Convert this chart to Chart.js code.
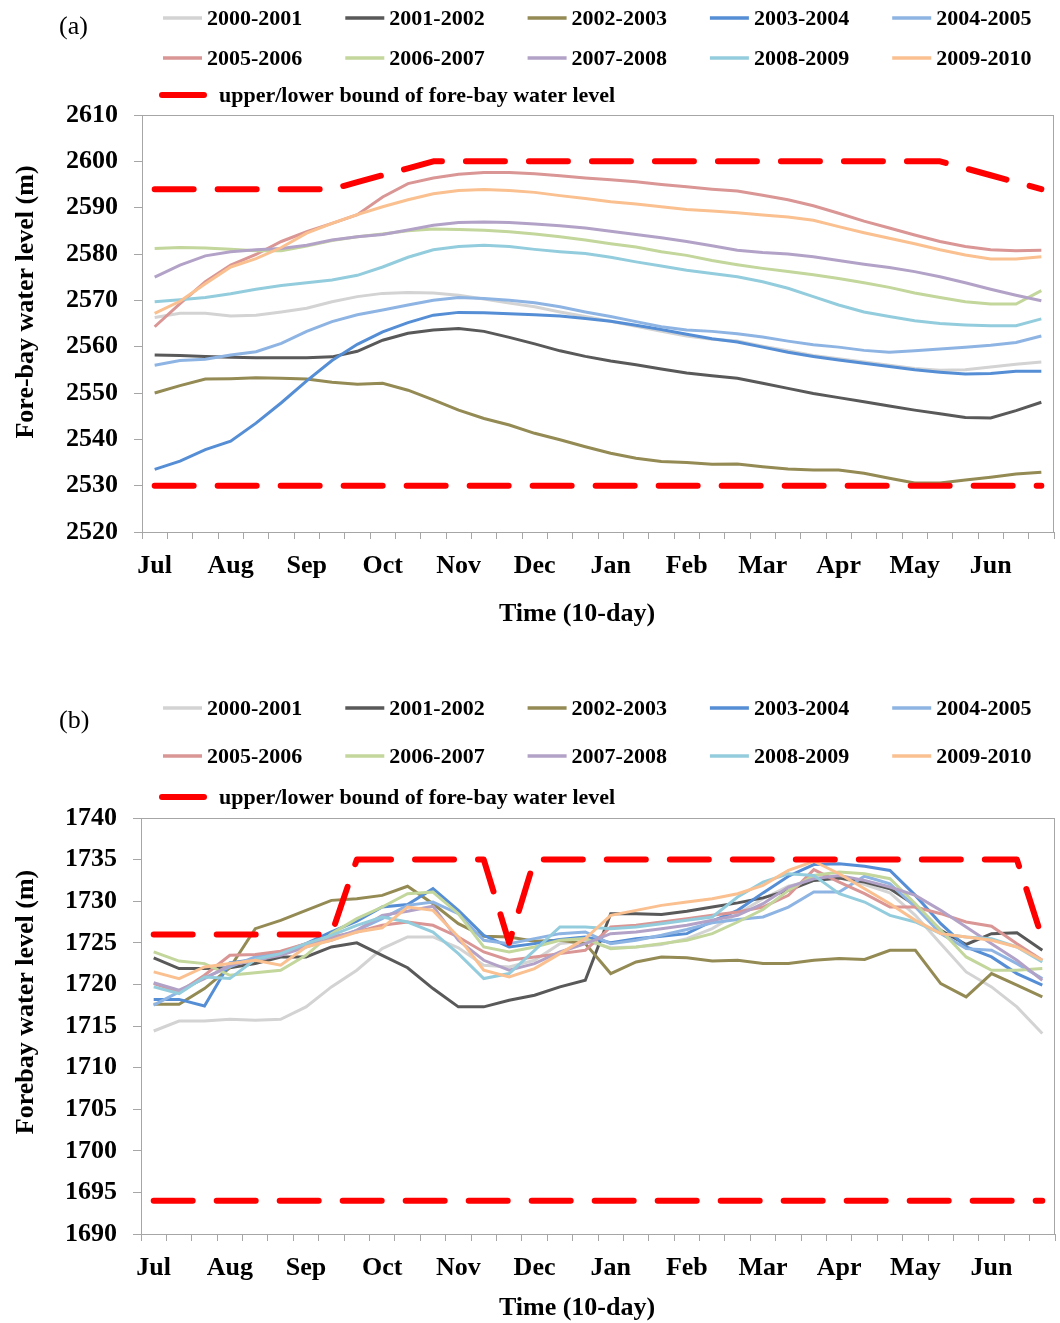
<!DOCTYPE html>
<html>
<head>
<meta charset="utf-8">
<script src="https://cdn.jsdelivr.net/npm/chart.js@4.4.1/dist/chart.umd.min.js"></script>
<style>
  body { margin: 0; background: #fff; }
  canvas { display: block; }
</style>
</head>
<body>
<canvas id="chartA" width="1060" height="662"></canvas>
<canvas id="chartB" width="1060" height="661"></canvas>
<script>
// 10-day periods, July to June (3 per month)
const months = ['Jul', 'Aug', 'Sep', 'Oct', 'Nov', 'Dec', 'Jan', 'Feb', 'Mar', 'Apr', 'May', 'Jun'];
const seasons = ['2000-2001', '2001-2002', '2002-2003', '2003-2004', '2004-2005',
                 '2005-2006', '2006-2007', '2007-2008', '2008-2009', '2009-2010'];
const seasonColors = ['#D3D3D3', '#595959', '#948A54', '#558ED5', '#8EB4E3',
                      '#D99694', '#C3D69B', '#B3A2C7', '#93CDDD', '#FAC090'];

// (a) fore-bay water level, m
const a2000 = [2566.3, 2567.2, 2567.2, 2566.6, 2566.8, 2567.5, 2568.3, 2569.7, 2570.8, 2571.5, 2571.7, 2571.6, 2571.1, 2570.3, 2569.4, 2568.6, 2567.5, 2566.5, 2565.5, 2564.4, 2563.3, 2562.3, 2561.6, 2561.2, 2560.1, 2559.1, 2558.1, 2557.4, 2556.7, 2556.0, 2555.3, 2554.9, 2555.0, 2555.6, 2556.2, 2556.7];
const a2001 = [2558.2, 2558.1, 2557.9, 2557.7, 2557.6, 2557.6, 2557.6, 2557.8, 2559.0, 2561.4, 2562.9, 2563.6, 2563.9, 2563.3, 2562.0, 2560.6, 2559.1, 2557.9, 2556.9, 2556.1, 2555.2, 2554.3, 2553.7, 2553.2, 2552.1, 2551.0, 2549.9, 2549.0, 2548.1, 2547.2, 2546.3, 2545.5, 2544.7, 2544.6, 2546.2, 2548.0];
const a2002 = [2550.0, 2551.6, 2553.0, 2553.1, 2553.3, 2553.2, 2553.0, 2552.3, 2551.9, 2552.1, 2550.6, 2548.5, 2546.3, 2544.5, 2543.1, 2541.3, 2539.9, 2538.4, 2537.0, 2535.9, 2535.2, 2535.0, 2534.6, 2534.7, 2534.1, 2533.6, 2533.4, 2533.4, 2532.7, 2531.6, 2530.6, 2530.6, 2531.2, 2531.8, 2532.5, 2532.9];
const a2003 = [2533.5, 2535.3, 2537.8, 2539.6, 2543.5, 2547.9, 2552.6, 2557.0, 2560.5, 2563.2, 2565.2, 2566.8, 2567.4, 2567.3, 2567.1, 2566.9, 2566.6, 2566.1, 2565.5, 2564.6, 2563.7, 2562.7, 2561.7, 2561.0, 2559.9, 2558.8, 2557.9, 2557.1, 2556.4, 2555.7, 2555.0, 2554.5, 2554.1, 2554.2, 2554.7, 2554.7];
const a2004 = [2556.0, 2557.0, 2557.3, 2558.2, 2558.9, 2560.7, 2563.3, 2565.4, 2566.9, 2567.9, 2569.0, 2570.0, 2570.6, 2570.4, 2570.0, 2569.5, 2568.6, 2567.5, 2566.5, 2565.4, 2564.3, 2563.6, 2563.3, 2562.8, 2562.1, 2561.2, 2560.4, 2559.9, 2559.2, 2558.8, 2559.1, 2559.5, 2559.9, 2560.3, 2560.9, 2562.3];
const a2005 = [2564.3, 2569.3, 2574.0, 2577.6, 2579.9, 2582.7, 2584.8, 2586.6, 2588.5, 2592.3, 2595.2, 2596.4, 2597.2, 2597.6, 2597.6, 2597.3, 2596.9, 2596.4, 2596.0, 2595.6, 2595.0, 2594.5, 2594.0, 2593.6, 2592.7, 2591.7, 2590.4, 2588.8, 2587.1, 2585.6, 2584.1, 2582.7, 2581.6, 2580.9, 2580.7, 2580.8];
const a2006 = [2581.2, 2581.4, 2581.3, 2581.0, 2580.7, 2580.7, 2581.7, 2582.9, 2583.7, 2584.3, 2585.0, 2585.4, 2585.3, 2585.1, 2584.8, 2584.3, 2583.7, 2583.0, 2582.2, 2581.5, 2580.5, 2579.7, 2578.6, 2577.7, 2576.9, 2576.2, 2575.5, 2574.7, 2573.8, 2572.8, 2571.6, 2570.6, 2569.7, 2569.2, 2569.2, 2572.1];
const a2007 = [2575.0, 2577.6, 2579.6, 2580.5, 2580.9, 2581.2, 2581.9, 2583.0, 2583.7, 2584.2, 2585.2, 2586.2, 2586.8, 2586.9, 2586.8, 2586.5, 2586.1, 2585.6, 2584.9, 2584.2, 2583.5, 2582.7, 2581.8, 2580.8, 2580.3, 2580.0, 2579.4, 2578.6, 2577.8, 2577.1, 2576.2, 2575.1, 2573.8, 2572.4, 2571.1, 2569.9];
const a2008 = [2569.7, 2570.1, 2570.6, 2571.4, 2572.4, 2573.2, 2573.8, 2574.4, 2575.4, 2577.2, 2579.3, 2580.9, 2581.6, 2581.9, 2581.6, 2581.0, 2580.5, 2580.1, 2579.3, 2578.3, 2577.4, 2576.5, 2575.8, 2575.1, 2574.0, 2572.6, 2570.8, 2569.0, 2567.5, 2566.5, 2565.6, 2565.0, 2564.7, 2564.5, 2564.5, 2566.0];
const a2009 = [2567.2, 2569.8, 2573.6, 2577.2, 2579.0, 2581.4, 2584.5, 2586.6, 2588.5, 2590.2, 2591.7, 2593.0, 2593.7, 2593.9, 2593.7, 2593.3, 2592.6, 2592.0, 2591.3, 2590.8, 2590.2, 2589.6, 2589.3, 2588.9, 2588.4, 2588.0, 2587.3, 2585.9, 2584.6, 2583.4, 2582.2, 2580.9, 2579.8, 2578.9, 2578.9, 2579.4];
const upperA = [2594, 2594, 2594, 2594, 2594, 2594, 2594, 2594, 2595.5, 2597, 2598.5, 2600, 2600, 2600, 2600, 2600, 2600, 2600, 2600, 2600, 2600, 2600, 2600, 2600, 2600, 2600, 2600, 2600, 2600, 2600, 2600, 2600, 2598.5, 2597, 2595.5, 2594];
const lowerA = [2530, 2530, 2530, 2530, 2530, 2530, 2530, 2530, 2530, 2530, 2530, 2530, 2530, 2530, 2530, 2530, 2530, 2530, 2530, 2530, 2530, 2530, 2530, 2530, 2530, 2530, 2530, 2530, 2530, 2530, 2530, 2530, 2530, 2530, 2530, 2530];

// (b) forebay water level, m
const b2000 = [1714.4, 1715.6, 1715.6, 1715.8, 1715.7, 1715.8, 1717.3, 1719.7, 1721.7, 1724.3, 1725.7, 1725.7, 1724.4, 1722.3, 1722.1, 1722.9, 1724.9, 1725.2, 1724.4, 1724.5, 1724.8, 1725.5, 1726.7, 1728.5, 1730.3, 1731.8, 1732.5, 1732.8, 1732.0, 1731.0, 1728.3, 1724.9, 1721.5, 1719.7, 1717.3, 1714.1];
const b2001 = [1723.2, 1721.9, 1721.9, 1722.0, 1722.5, 1723.3, 1723.3, 1724.5, 1725.0, 1723.5, 1722.0, 1719.5, 1717.3, 1717.3, 1718.1, 1718.7, 1719.7, 1720.5, 1728.5, 1728.5, 1728.4, 1728.8, 1729.3, 1729.8, 1730.4, 1731.3, 1732.5, 1732.8, 1732.3, 1731.5, 1729.5, 1726.5, 1724.8, 1726.1, 1726.2, 1724.1];
const b2002 = [1717.6, 1717.6, 1719.5, 1722.0, 1726.7, 1727.7, 1728.9, 1730.1, 1730.3, 1730.7, 1731.8, 1729.7, 1727.3, 1725.8, 1725.7, 1725.2, 1725.3, 1724.9, 1721.3, 1722.7, 1723.3, 1723.2, 1722.8, 1722.9, 1722.5, 1722.5, 1722.9, 1723.1, 1723.0, 1724.1, 1724.1, 1720.1, 1718.5, 1721.3, 1719.9, 1718.5];
const b2003 = [1718.2, 1718.2, 1717.4, 1722.6, 1723.0, 1723.8, 1724.9, 1726.3, 1727.6, 1729.3, 1729.6, 1731.5, 1728.9, 1725.9, 1724.5, 1724.9, 1725.4, 1725.7, 1725.0, 1725.5, 1725.8, 1726.1, 1727.6, 1728.9, 1731.0, 1733.0, 1734.4, 1734.5, 1734.2, 1733.7, 1730.7, 1727.3, 1724.5, 1723.3, 1721.3, 1719.9];
const b2004 = [1717.5, 1719.1, 1720.8, 1722.1, 1723.3, 1723.9, 1724.7, 1725.3, 1726.5, 1727.9, 1729.5, 1729.9, 1728.5, 1725.3, 1724.9, 1725.5, 1726.1, 1726.3, 1724.9, 1725.3, 1725.9, 1726.6, 1727.4, 1727.8, 1728.1, 1729.3, 1731.1, 1731.1, 1733.0, 1732.1, 1729.3, 1726.1, 1724.3, 1724.1, 1722.5, 1720.7];
const b2005 = [1720.1, 1719.1, 1721.1, 1723.5, 1723.6, 1724.0, 1724.9, 1725.7, 1726.3, 1727.1, 1727.5, 1727.1, 1725.7, 1723.9, 1722.9, 1723.3, 1723.7, 1724.1, 1726.9, 1727.1, 1727.5, 1727.9, 1728.3, 1728.7, 1729.3, 1730.7, 1733.8, 1732.3, 1730.9, 1729.3, 1729.3, 1728.5, 1727.5, 1727.0, 1724.9, 1722.9];
const b2006 = [1723.9, 1722.8, 1722.5, 1721.1, 1721.4, 1721.7, 1723.5, 1726.1, 1727.9, 1729.3, 1730.9, 1731.1, 1728.5, 1724.5, 1723.9, 1724.5, 1725.3, 1725.5, 1724.3, 1724.5, 1724.9, 1725.3, 1726.1, 1727.5, 1729.0, 1731.3, 1733.1, 1733.5, 1733.3, 1732.7, 1729.7, 1726.5, 1723.3, 1721.7, 1721.7, 1721.9];
const b2007 = [1720.2, 1719.3, 1720.7, 1722.3, 1722.9, 1723.5, 1724.5, 1725.5, 1726.5, 1728.3, 1728.8, 1729.4, 1725.3, 1722.9, 1721.7, 1722.5, 1723.9, 1724.9, 1726.1, 1726.3, 1726.7, 1727.1, 1727.7, 1728.3, 1729.7, 1731.7, 1732.7, 1733.1, 1732.5, 1731.7, 1730.7, 1728.9, 1726.9, 1724.9, 1722.9, 1720.5];
const b2008 = [1719.7, 1718.9, 1720.9, 1720.7, 1723.0, 1723.7, 1724.9, 1725.9, 1727.1, 1728.1, 1727.5, 1726.3, 1723.7, 1720.7, 1721.3, 1724.1, 1726.9, 1726.9, 1726.7, 1726.9, 1727.3, 1727.7, 1728.1, 1730.5, 1732.3, 1733.3, 1733.1, 1730.9, 1729.9, 1728.3, 1727.5, 1726.1, 1725.7, 1725.5, 1724.5, 1722.7];
const b2009 = [1721.5, 1720.7, 1722.1, 1722.5, 1722.9, 1722.3, 1724.5, 1725.3, 1726.3, 1726.8, 1729.3, 1728.9, 1725.7, 1721.7, 1720.9, 1721.9, 1723.7, 1725.5, 1728.3, 1728.9, 1729.5, 1729.9, 1730.3, 1730.9, 1731.9, 1733.7, 1734.8, 1733.3, 1731.5, 1729.7, 1727.7, 1726.1, 1725.7, 1725.3, 1724.5, 1722.9];
const upperB = [1726, 1726, 1726, 1726, 1726, 1726, 1726, 1726, 1735, 1735, 1735, 1735, 1735, 1735, 1725, 1735, 1735, 1735, 1735, 1735, 1735, 1735, 1735, 1735, 1735, 1735, 1735, 1735, 1735, 1735, 1735, 1735, 1735, 1735, 1735, 1725.5];
const lowerB = [1694, 1694, 1694, 1694, 1694, 1694, 1694, 1694, 1694, 1694, 1694, 1694, 1694, 1694, 1694, 1694, 1694, 1694, 1694, 1694, 1694, 1694, 1694, 1694, 1694, 1694, 1694, 1694, 1694, 1694, 1694, 1694, 1694, 1694, 1694, 1694];

const boundLabel = 'upper/lower bound of fore-bay water level';
const serif = '"Liberation Serif", "Times New Roman", serif';
const axisGrey = '#A6A6A6';

// month name on the first 10-day period, blanks on the other two
const tenDayLabels = months.flatMap(m => [m, '', '']);

// frame around the plot, legend block, panel tag and axis titles
const panelDecor = {
  id: 'panelDecor',
  afterDraw(chart, args, opts) {
    const {ctx, chartArea} = chart;
    ctx.save();
    ctx.strokeStyle = axisGrey;
    ctx.lineWidth = 1;
    ctx.strokeRect(chartArea.left + 0.5, chartArea.top + 0.5,
      chartArea.right - chartArea.left - 1, chartArea.bottom - chartArea.top);

    ctx.fillStyle = '#000';
    ctx.textBaseline = 'middle';
    ctx.font = '26px ' + serif;
    ctx.fillText(opts.tag, 59, opts.tagY);

    // axis titles
    ctx.font = 'bold 26px ' + serif;
    ctx.textAlign = 'center';
    ctx.fillText('Time (10-day)', 577, opts.xTitleY);
    ctx.save();
    ctx.translate(26, opts.yTitleY);
    ctx.rotate(-Math.PI / 2);
    ctx.fillText(opts.yTitle, 0, 0);
    ctx.restore();

    ctx.textAlign = 'left';
    ctx.font = 'bold 22px ' + serif;
    chart.data.datasets.forEach((ds, i) => {
      if (ds.noLegend) return;
      let x, y, len = 39;
      if (i < 10) {
        x = 163 + 182.3 * (i % 5);
        y = opts.rows[Math.floor(i / 5)];
      } else {
        x = 162;
        y = opts.rows[2];
        len = 42;
      }
      ctx.beginPath();
      ctx.strokeStyle = ds.borderColor;
      ctx.lineWidth = i < 10 ? 3.5 : 6;
      ctx.lineCap = i < 10 ? 'butt' : 'round';
      ctx.moveTo(x, y);
      ctx.lineTo(x + len, y);
      ctx.stroke();
      ctx.fillText(ds.label, i < 10 ? x + 44 : 219, y + 1);
    });
    ctx.restore();
  }
};

function buildDatasets(series, upper, lower) {
  const sets = series.map((values, i) => ({
    label: seasons[i],
    data: values,
    borderColor: seasonColors[i],
    borderWidth: 3,
    pointRadius: 0,
    tension: 0,
    order: 20 - i
  }));
  const bound = {
    borderColor: '#FF0000',
    borderWidth: 6,
    borderDash: [39, 24],
    borderCapStyle: 'round',
    borderJoinStyle: 'round',
    pointRadius: 0,
    order: 0
  };
  sets.push(Object.assign({label: boundLabel, data: upper}, bound));
  sets.push(Object.assign({label: boundLabel, data: lower, noLegend: true}, bound));
  return sets;
}

function makePanel(id, cfg) {
  return new Chart(document.getElementById(id), {
    type: 'line',
    data: {
      labels: tenDayLabels,
      datasets: buildDatasets(cfg.series, cfg.upper, cfg.lower)
    },
    options: {
      responsive: false,
      animation: false,
      layout: {padding: {top: cfg.top, right: cfg.right, left: 0, bottom: 0}},
      plugins: {
        legend: {display: false},
        tooltip: {enabled: false},
        panelDecor: {
          tag: cfg.tag, tagY: cfg.tagY, rows: cfg.rows,
          yTitle: cfg.yTitle, yTitleY: cfg.yTitleY, xTitleY: cfg.xTitleY
        }
      },
      scales: {
        x: {
          type: 'category',
          offset: true,
          afterFit(scale) { scale.height = cfg.xHeight; },
          grid: {offset: true, drawOnChartArea: false, drawTicks: true, tickLength: 7, color: axisGrey},
          border: {color: axisGrey},
          ticks: {
            autoSkip: false, maxRotation: 0, minRotation: 0, padding: 12,
            color: '#000', font: {family: serif, size: 26, weight: 'bold'}
          }
        },
        y: {
          min: cfg.min, max: cfg.max,
          afterFit(scale) { scale.width = cfg.left; },
          grid: {drawOnChartArea: false, drawTicks: true, tickLength: 8, color: axisGrey},
          border: {color: axisGrey},
          ticks: {
            stepSize: cfg.step, padding: 16, color: '#000',
            font: {family: serif, size: 26, weight: 'bold'},
            callback: (value) => String(value)
          }
        }
      }
    },
    plugins: [panelDecor]
  });
}

makePanel('chartA', {
  series: [a2000, a2001, a2002, a2003, a2004, a2005, a2006, a2007, a2008, a2009],
  upper: upperA, lower: lowerA,
  min: 2520, max: 2610, step: 10,
  yTitle: 'Fore-bay water level (m)', yTitleY: 302, xTitleY: 614,
  tag: '(a)', tagY: 27, rows: [18, 58, 95],
  top: 115, right: 6, left: 142, xHeight: 130
});

makePanel('chartB', {
  series: [b2000, b2001, b2002, b2003, b2004, b2005, b2006, b2007, b2008, b2009],
  upper: upperB, lower: lowerB,
  min: 1690, max: 1740, step: 5,
  yTitle: 'Forebay water level (m)', yTitleY: 340, xTitleY: 646,
  tag: '(b)', tagY: 59, rows: [46, 94, 135],
  top: 156, right: 5, left: 141, xHeight: 89
});
</script>
</body>
</html>
